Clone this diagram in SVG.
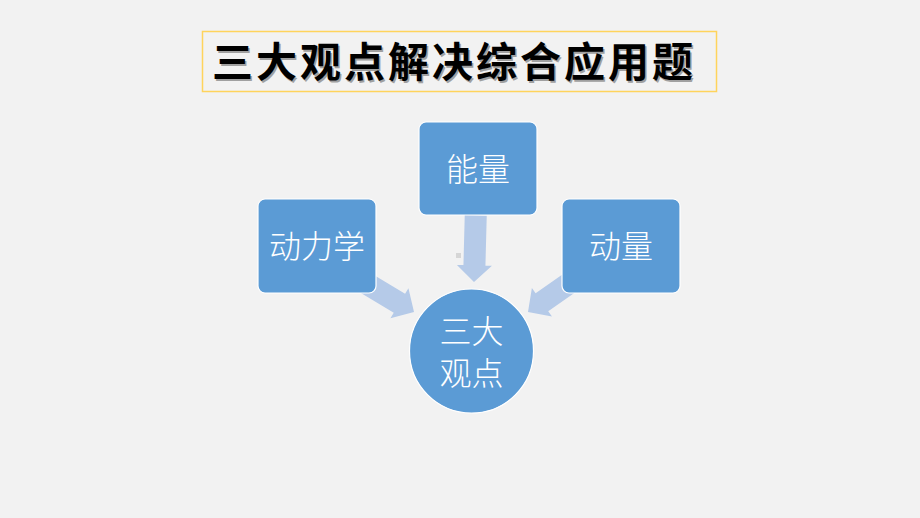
<svg xmlns="http://www.w3.org/2000/svg" width="920" height="518" viewBox="0 0 920 518">
<style>
.node{fill:#5B9BD5;stroke:#FFFFFF;stroke-width:1.2}
.lbl{font-family:"Noto Sans CJK SC","Noto Sans",sans-serif;font-size:32px;fill:#FFFFFF;text-anchor:middle;font-weight:300}
.arr{fill:#B5CAE8}
.title{font-family:"Noto Sans CJK SC","Noto Sans",sans-serif;font-size:41px;font-weight:bold;text-anchor:middle;letter-spacing:3px}
</style>
<defs>
<polygon id="arrow" points="-68,-11 -17,-11 -17,-17.5 0,0 -17,17.5 -17,11 -68,11"/>
</defs>
<rect x="0" y="0" width="920" height="518" fill="#F2F2F2"/>
<g id="title">
<rect x="202.5" y="31.5" width="514" height="60" fill="#F2F2F2" stroke="#FFD45C" stroke-width="1.5"/>
<text class="title" x="454" y="77" fill="#A0A0A0" transform="translate(1.5,1.5)">三大观点解决综合应用题</text>
<text class="title" x="454" y="77" fill="#000000">三大观点解决综合应用题</text>
</g>
<g id="connectors">
<use href="#arrow" class="arr" transform="translate(414,312) rotate(31)"/>
<use href="#arrow" class="arr" transform="translate(474,282) rotate(91.5) scale(0.98,1)"/>
<use href="#arrow" class="arr" transform="translate(528,312) rotate(145)"/>
<rect x="456" y="253" width="5" height="5" fill="#D6D6D6"/>
</g>
<g id="node-dynamics">
<rect class="node" x="258" y="199" width="118" height="94" rx="7"/>
<text class="lbl" x="317" y="258">动力学</text>
</g>
<g id="node-energy">
<rect class="node" x="419" y="122" width="118" height="93" rx="7"/>
<text class="lbl" x="478" y="181">能量</text>
</g>
<g id="node-momentum">
<rect class="node" x="562" y="199" width="118" height="94" rx="7"/>
<text class="lbl" x="621" y="258">动量</text>
</g>
<g id="node-center">
<circle class="node" cx="471.5" cy="351" r="62"/>
<text class="lbl" x="471.5" y="343">三大</text>
<text class="lbl" x="471.5" y="385">观点</text>
</g>
</svg>
